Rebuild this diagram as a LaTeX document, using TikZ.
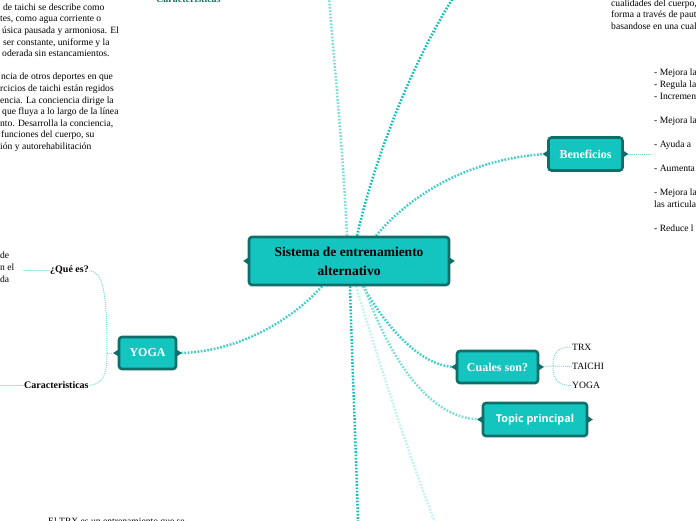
\documentclass[tikz,border=0pt]{standalone}
\usepackage{fontspec}
\setmainfont{Liberation Serif}
\newfontfamily\topicfont{Open Sans}
\usetikzlibrary{calc}
\pgfdeclarelayer{background}
\pgfsetlayers{background,main}
\definecolor{fillc}{HTML}{14C4BF}
\definecolor{bord}{HTML}{0F6E6A}
\definecolor{lkA}{HTML}{12BFBB}
\definecolor{lkB}{HTML}{3FCFCB}
\definecolor{lkC}{HTML}{7ADCD9}
\definecolor{lkD}{HTML}{BDF2F1}
\definecolor{darkt}{HTML}{1D6B66}
\newcommand\bracepts[1]{%
  \fill[bord] ($(#1.west)+(1.5,-4)$) -- ($(#1.west)+(-4.5,0)$) -- ($(#1.west)+(1.5,4)$) -- cycle;
  \fill[bord] ($(#1.east)+(-1.5,-4)$) -- ($(#1.east)+(4.5,0)$) -- ($(#1.east)+(-1.5,4)$) -- cycle;}
\begin{document}
\begin{tikzpicture}[x=1pt,y=-1pt,
  topicbox/.style={draw=bord, fill=fillc, line width=2.6pt, rounded corners=3pt, inner sep=0pt, align=center},
  subtxt/.style={text=white, font=\bfseries\fontsize{12}{14}\selectfont},
  conn/.style={line width=2.5pt, dash pattern=on 1.7pt off 1.6pt},
  thinconn/.style={line width=1pt, dash pattern=on 1pt off 1pt, draw=lkC},
  solidconn/.style={line width=1pt, draw=lkD!60!lkC},
  bodytxt/.style={inner sep=0pt, align=left, font=\fontsize{9.6}{11.6}\selectfont},
  lbl/.style={inner sep=0pt, font=\bfseries\fontsize{10}{12}\selectfont}]
\useasboundingbox (0,0) rectangle (696,520);

% central and main nodes
\node[topicbox, minimum width=200pt, minimum height=48pt, text=black,
      font=\bfseries\fontsize{13.5}{19}\selectfont] (c) at (349,261) {Sistema de entrenamiento\\alternativo};
\node[topicbox, minimum width=74pt, minimum height=33pt, subtxt] (ben) at (585.5,154) {Beneficios};
\node[topicbox, minimum width=57pt, minimum height=32pt, subtxt] (yoga) at (147.5,353) {YOGA};
\node[topicbox, minimum width=81pt, minimum height=32pt, subtxt] (cual) at (497.5,367) {Cuales son?};
\node[topicbox, minimum width=104pt, minimum height=33pt, text=white,
      font=\topicfont\bfseries\fontsize{10.8}{12}\selectfont] (topic) at (535,419.5) {Topic principal};
\bracepts{c}\bracepts{ben}\bracepts{yoga}\bracepts{cual}\bracepts{topic}

% free ends
\coordinate (t1) at (329,-2);
\coordinate (t2) at (453,-2);
\coordinate (b1) at (358,522);
\coordinate (b2) at (435,522);
\coordinate (jy) at (107,353);
\coordinate (jc) at (553,366);
\coordinate (lq) at (23,270.5);
\coordinate (lc) at (-1,385.5);
\coordinate (bl) at (650,154);

% text nodes
\node[bodytxt, anchor=north west] (tl) at (0,3.5) {%
\hspace*{3pt}de taichi se describe como\\
tes, como agua corriente o\\
\hspace*{2pt}úsica pausada y armoniosa. El\\
\hspace*{3pt}ser constante, uniforme y la\\
\hspace*{2pt}oderada sin estancamientos.\\[11.6pt]
\hspace*{1pt}ncia de otros deportes en que\\
rcicios de taichi están regidos\\
encia. La conciencia dirige la\\
\hspace*{2pt}que fluya a lo largo de la línea\\
nto. Desarrolla la conciencia,\\
\hspace*{1pt}funciones del cuerpo, su\\
ión y autorehabilitación};
\node[lbl, text=darkt, anchor=base west] (car1) at (156,2.5) {Caracteristicas};
\node[bodytxt, anchor=north west] (tr) at (611,-0.5) {cualidades del cuerpo,\\forma a través de paut\\basandose en una cual};
\node[bodytxt, anchor=north west, font=\fontsize{9.6}{12}\selectfont] (list) at (654,69) {%
- Mejora la\\- Regula la\\- Incremen\\[12pt]- Mejora la\\[12pt]- Ayuda a\\[12pt]- Aumenta\\[12pt]- Mejora la\\las articula\\[12pt]- Reduce l};
\node[bodytxt, anchor=north west] (lt) at (0,252) {de\\n el\\da};
\node[lbl, anchor=west] (que) at (50,270.5) {¿Qué es?};
\node[lbl, anchor=west] (car2) at (24,385.5) {Caracteristicas};
\node[bodytxt, anchor=west] (trx) at (572,347) {TRX};
\node[bodytxt, anchor=west] (tai) at (572,366.5) {TAICHI};
\node[bodytxt, anchor=west] (yg) at (572,385.5) {YOGA};
\node[bodytxt, anchor=base west] (btm) at (48,524) {El TRX es un entrenamiento que se};

\begin{pgfonlayer}{background}
\draw[conn, draw=lkC] ($(c.north)+(-2,0)$) .. controls (343,150) and (334,60) .. (t1);
\draw[conn, draw=lkA] ($(c.north)+(8,0)$) .. controls (373,165) and (408,70) .. (t2);
\draw[conn, draw=lkB] ($(c.north)+(27,0)$) .. controls (410,195) and (470,158) .. (ben.west);
\draw[conn, draw=lkB] ($(c.south)+(-27,0)$) .. controls (290,322) and (235,353) .. (yoga.east);
\draw[conn, draw=lkA] ($(c.south)+(1,0)$) .. controls (352,360) and (356,450) .. (b1);
\draw[conn, draw=lkD] ($(c.south)+(7,0)$) .. controls (372,340) and (410,460) .. (b2);
\draw[conn, draw=lkB] ($(c.south)+(14,0)$) .. controls (385,325) and (420,367) .. (cual.west);
\draw[conn, draw=lkC] ($(c.south)+(15,0)$) .. controls (390,360) and (430,420) .. (topic.west);
\draw[thinconn] (ben.east) -- (bl);
% YOGA children
\draw[thinconn] (yoga.west) -- (jy);
\draw[thinconn] (jy) .. controls (107,290) and (103,272) .. (que.east);
\draw[thinconn] (jy) .. controls (107,375) and (103,384) .. (car2.east);
\draw[solidconn] (lq) -- (que.west);
\draw[solidconn] (lc) -- (car2.west);
% Cuales children
\draw[thinconn] (cual.east) -- (jc);
\draw[thinconn] (jc) .. controls (553,352) and (558,347) .. (trx.west);
\draw[thinconn] (jc) -- (tai.west);
\draw[thinconn] (jc) .. controls (553,380) and (558,385.5) .. (yg.west);
\end{pgfonlayer}
\end{tikzpicture}
\end{document}
